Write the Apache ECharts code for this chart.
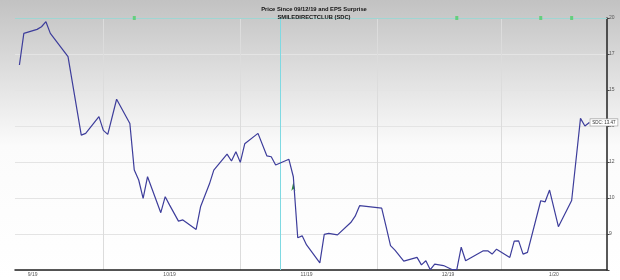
<!DOCTYPE html>
<html><head><meta charset="utf-8">
<script src="https://cdn.jsdelivr.net/npm/echarts@6/dist/echarts.min.js"></script>
<style>html,body{margin:0;padding:0;background:#fff}#c{width:620px;height:280px}</style>
</head><body><div id="c"></div>
<script>
// ---- data ----
const priceDates = ['2019-09-12','2019-09-13','2019-09-16','2019-09-17','2019-09-18','2019-09-19','2019-09-23','2019-09-26','2019-09-27','2019-09-30',
'2019-10-01','2019-10-02','2019-10-04','2019-10-07','2019-10-08','2019-10-09','2019-10-10','2019-10-11','2019-10-14','2019-10-15',
'2019-10-16','2019-10-18','2019-10-19','2019-10-22','2019-10-23','2019-10-25','2019-10-26','2019-10-29','2019-10-30','2019-10-31',
'2019-11-01','2019-11-02','2019-11-05','2019-11-07','2019-11-08','2019-11-09','2019-11-12','2019-11-13','2019-11-14','2019-11-15',
'2019-11-16','2019-11-19','2019-11-20','2019-11-21','2019-11-23','2019-11-26','2019-11-27','2019-11-28','2019-12-03','2019-12-04',
'2019-12-05','2019-12-06','2019-12-08','2019-12-11','2019-12-12','2019-12-13','2019-12-14','2019-12-15','2019-12-17','2019-12-19',
'2019-12-20','2019-12-21','2019-12-22','2019-12-26','2019-12-27','2019-12-28','2019-12-29','2020-01-01','2020-01-02','2020-01-03',
'2020-01-04','2020-01-05','2020-01-08','2020-01-09','2020-01-10','2020-01-12','2020-01-15','2020-01-17','2020-01-18','2020-01-19'];
const prices = [16.58,18.59,18.86,19.04,19.39,18.59,17.09,12.87,12.95,13.76,
13.09,12.90,14.65,13.42,11.34,10.94,10.24,11.07,9.72,10.30,
9.99,9.43,9.47,9.15,9.93,10.78,11.34,12.01,11.72,12.12,
11.66,12.47,12.95,11.94,11.90,11.55,11.79,11.07,8.88,8.94,
8.65,8.11,8.99,9.02,8.97,9.38,9.60,9.97,9.88,9.24,
8.63,8.49,8.16,8.27,8.05,8.17,7.91,8.07,8.03,7.91,
7.91,8.58,8.17,8.47,8.47,8.37,8.52,8.27,8.77,8.78,
8.37,8.42,10.15,10.11,10.55,9.24,10.16,13.67,13.30,13.47];
const axisStart = '2019-09-11', axisEnd = '2020-01-23';
const tickLabels = ['9/19','10/19','11/19','12/19','1/20'];
const tickLabelDates = ['2019-09-15','2019-10-16','2019-11-16','2019-12-18','2020-01-11'];
const monthLineDates = ['2019-10-01','2019-11-01','2019-12-02','2019-12-30'];
const earningsDate = '2019-11-10';
const surpriseDates = ['2019-10-08','2019-12-20','2020-01-08','2020-01-15'];
const arrowDates = ['2019-11-13'];
const arrowPrices = [10.86];
const yBase = 9, yRatio = 1.139, yTopStep = 6, yBottomStep = -1;
const tickerName = 'SDC';
const titleText = 'Price Since 09/12/19 and EPS Surprise\nSMILEDIRECTCLUB (SDC)';

// ---- build ----
const lnR = Math.log(yRatio);
const toStep = p => Math.log(p / yBase) / lnR;
const cats = [];
for (let d = new Date(axisStart + 'T00:00:00Z'); d <= new Date(axisEnd + 'T00:00:00Z'); d.setUTCDate(d.getUTCDate() + 1)) {
  cats.push(d.toISOString().slice(0, 10));
}
const priceMap = {};
priceDates.forEach((d, i) => priceMap[d] = prices[i]);
const lineData = cats.map(c => priceMap[c] !== undefined ? toStep(priceMap[c]) : null);
const lastDate = priceDates[priceDates.length - 1];
const lastPrice = prices[prices.length - 1];

const chart = echarts.init(document.getElementById('c'), null, {renderer: 'canvas'});
chart.setOption({
  animation: false,
  backgroundColor: {type: 'linear', x: 0, y: 0, x2: 0, y2: 1,
    colorStops: [{offset: 0, color: '#c2c2c2'}, {offset: 0.52, color: '#fbfbfb'}, {offset: 1, color: '#ffffff'}]},
  title: {
    text: titleText, left: 309, top: 1, textAlign: 'center',
    textStyle: {fontFamily: 'Liberation Sans', fontSize: 5.8, fontWeight: 'bold', color: '#111', lineHeight: 7.5}
  },
  grid: {left: 15, right: 13, top: 18, bottom: 10},
  xAxis: {
    type: 'category', data: cats, boundaryGap: false,
    axisLine: {onZero: false, lineStyle: {color: '#222', width: 1.5}},
    axisTick: {show: false},
    axisLabel: {
      interval: (i, v) => tickLabelDates.includes(v),
      formatter: v => { const k = tickLabelDates.indexOf(v); return k >= 0 ? tickLabels[k] : ''; },
      fontSize: 5, color: '#555', margin: 2, fontFamily: 'Liberation Sans'
    },
    splitLine: {show: true, interval: (i, v) => monthLineDates.includes(v), lineStyle: {color: '#dcdcdc', width: 1}}
  },
  yAxis: {
    type: 'value', position: 'right', min: yBottomStep, max: yTopStep, interval: 1,
    axisLine: {show: true, onZero: false, lineStyle: {color: '#222', width: 1.5}},
    axisTick: {show: true, length: 2.5, lineStyle: {color: '#444'}},
    axisLabel: {
      formatter: v => v < 0 ? '' : String(Math.round(yBase * Math.pow(yRatio, v))),
      fontSize: 5, color: '#555', margin: 2, fontFamily: 'Liberation Sans'
    },
    splitLine: {show: true, lineStyle: {color: '#e4e4e4', width: 1}}
  },
  series: [
    {
      type: 'line', data: lineData, connectNulls: true, symbol: 'none',
      lineStyle: {color: '#3d3d9b', width: 1.2}, z: 5,
      markLine: {
        silent: true, symbol: 'none', label: {show: false},
        data: [
          {xAxis: earningsDate, lineStyle: {color: '#7fd9e2', width: 1, type: 'solid'}},
          {yAxis: yTopStep, lineStyle: {color: '#9fd6d3', width: 1.2, type: 'solid'}}
        ]
      },
      markPoint: {
        silent: true,
        data: [
          ...arrowDates.map((d, i) => ({coord: [d, toStep(arrowPrices[i])], symbol: 'arrow', symbolSize: [3, 9],
            itemStyle: {color: '#2e8b3a'}, label: {show: false}})),
          {coord: [lastDate, toStep(lastPrice)], symbol: 'circle', symbolSize: 0,
            label: {show: true, position: 'right', distance: 1, formatter: tickerName + ': ' + lastPrice.toFixed(2),
              fontSize: 4.5, color: '#333', fontFamily: 'Liberation Sans', backgroundColor: '#fff',
              borderColor: '#999', borderWidth: 0.6, padding: [1, 2, 0.5, 2]}}
        ]
      }
    },
    {
      type: 'scatter', data: surpriseDates.map(d => [d, yTopStep]), symbol: 'rect', symbolSize: [3, 4],
      itemStyle: {color: '#4fcf6a'}, z: 6, clip: false
    }
  ]
});
</script></body></html>
